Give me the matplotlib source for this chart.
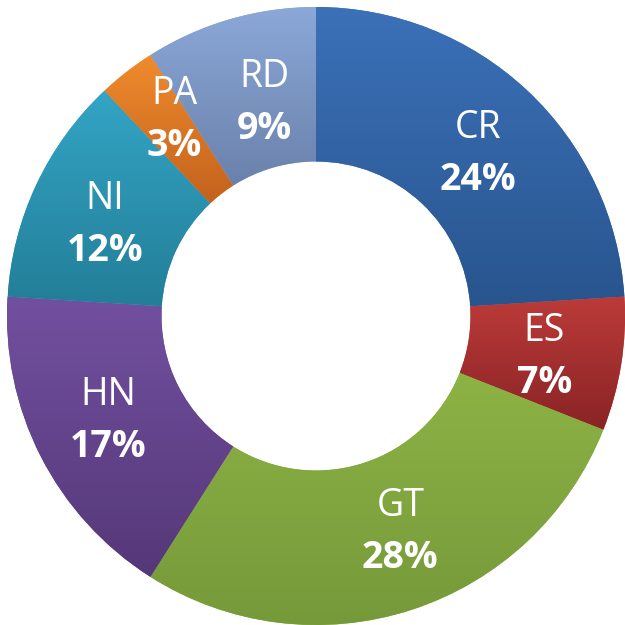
import matplotlib
matplotlib.use("Agg")
import matplotlib.pyplot as plt
from matplotlib.colors import LinearSegmentedColormap
import numpy as np

labels = ['CR', 'ES', 'GT', 'HN', 'NI', 'PA', 'RD']
values = [24, 7, 28, 17, 12, 3, 9]
top_colors = ['#3b71b9', '#bb3b39', '#8db345', '#7250a0', '#33a5c5', '#f08b2d', '#8ba8d8']
bottom_colors = ['#29558e', '#8a2325', '#76993a', '#553878', '#237e98', '#c3621d', '#6a81aa']

# small label nudges (pixels) to mimic the original label placement
label_nudge = [(4, -2), (0, -1), (13, 8), (-2, 4), (-2, -3), (0, 17), (13, -5)]

fig = plt.figure(figsize=(6.25, 6.25), dpi=100)
ax = fig.add_axes([0, 0, 1, 1])

cx, cy = 316, 625 - 316
R = 309
wedges, _ = ax.pie(values, startangle=90, counterclock=False, radius=R,
                   center=(cx, cy), frame=True,
                   wedgeprops=dict(width=R * 0.5, linewidth=0))
ax.set_xlim(0, 625)
ax.set_ylim(0, 625)
ax.set_aspect('equal')
ax.axis('off')

# vertical gradient fill per slice
grad = np.linspace(0, 1, 256).reshape(-1, 1)
for w, c0, c1 in zip(wedges, top_colors, bottom_colors):
    w.set_facecolor(c0)
    ext = w.get_path().get_extents()
    cmap = LinearSegmentedColormap.from_list('g', [c0, c1])
    im = ax.imshow(grad, cmap=cmap, aspect='auto', origin='upper',
                   extent=(ext.x0, ext.x1, ext.y0, ext.y1), zorder=2)
    im.set_clip_path(w)

total = sum(values)
rl = 231
ang = 90.0
for lab, v, (ndx, ndy) in zip(labels, values, label_nudge):
    a = ang - v / total * 360 / 2
    ang -= v / total * 360
    x = cx + rl * np.cos(np.radians(a)) + ndx
    y = cy + rl * np.sin(np.radians(a)) + ndy
    ax.text(x, y + 12, lab, ha='center', va='baseline', color='white',
            fontsize=27, family='Open Sans', zorder=5)
    ax.text(x, y - 40, f'{v}%', ha='center', va='baseline', color='white',
            fontsize=27, fontweight='bold', family='Open Sans', zorder=5)

fig.savefig('out.png', dpi=100)
